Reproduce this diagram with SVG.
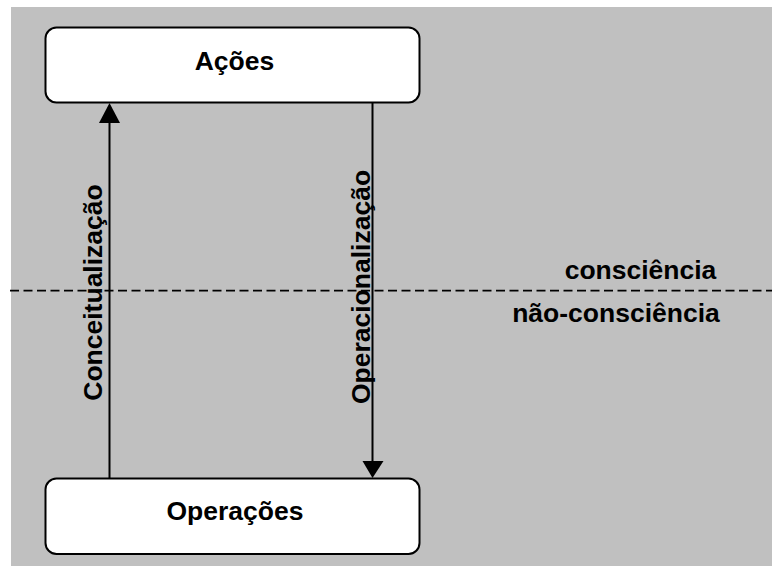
<svg xmlns="http://www.w3.org/2000/svg" width="772" height="566" viewBox="0 0 772 566">
  <defs>
    <style>
      .box { fill: #ffffff; stroke: #000000; stroke-width: 2; }
      .lbl { font-family: "Liberation Sans", Arial, sans-serif; font-weight: bold; font-size: 26.5px; fill: #000000; }
      .wire { stroke: #000000; stroke-width: 2; fill: none; }
      .head { fill: #000000; }
      .divider { stroke: #000000; stroke-width: 1.7; stroke-dasharray: 9 4.5; }
    </style>
  </defs>

  <!-- canvas -->
  <rect x="0" y="0" width="772" height="566" fill="#ffffff"/>
  <rect x="11" y="7" width="761" height="559" fill="#c0c0c0"/>

  <!-- awareness boundary -->
  <line class="divider" x1="10" y1="290.7" x2="772" y2="290.7"/>
  <text class="lbl" x="640.5" y="279" text-anchor="middle">consciência</text>
  <text class="lbl" x="616" y="322" text-anchor="middle">não-consciência</text>

  <!-- connectors -->
  <g id="connectors">
    <g id="conceitualizacao">
      <line class="wire" x1="109.5" y1="479" x2="109.5" y2="120"/>
      <polygon class="head" points="109.5,103 99,123 120,123"/>
      <text class="lbl" transform="translate(102,292.5) rotate(-90)" text-anchor="middle">Conceitualização</text>
    </g>
    <g id="operacionalizacao">
      <line class="wire" x1="372.5" y1="102" x2="372.5" y2="462"/>
      <polygon class="head" points="372.5,478 362.5,461 383.5,461"/>
      <text class="lbl" transform="translate(369.5,287) rotate(-90)" text-anchor="middle">Operacionalização</text>
    </g>
  </g>

  <!-- nodes -->
  <g id="acoes">
    <rect class="box" x="45.5" y="27.5" width="374" height="75" rx="11" ry="11"/>
    <text class="lbl" x="234.5" y="69.5" text-anchor="middle">Ações</text>
  </g>
  <g id="operacoes">
    <rect class="box" x="45.5" y="478.5" width="374" height="75.5" rx="11" ry="11"/>
    <text class="lbl" x="235" y="520" text-anchor="middle">Operações</text>
  </g>
</svg>
